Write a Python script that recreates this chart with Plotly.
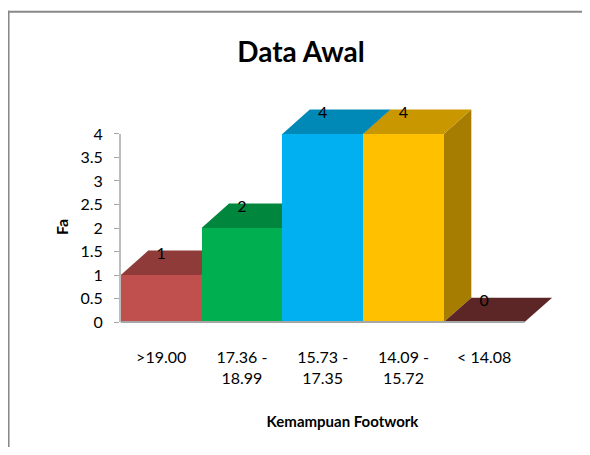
import plotly.graph_objects as go

# ---- data ----
categories = [">19.00", "17.36 -<br>18.99", "15.73 -<br>17.35", "14.09 -<br>15.72", "< 14.08"]
values = [1, 2, 4, 4, 0]
y_ticks = [0, 0.5, 1, 1.5, 2, 2.5, 3, 3.5, 4]
y_ticktext = ["0", "0.5", "1", "1.5", "2", "2.5", "3", "3.5", "4"]

front_colors = ["#C0504D", "#00B050", "#00B0F0", "#FFC000", "#8C3B39"]
top_colors = ["#8F3B39", "#00863D", "#0089B6", "#C99700", "#5C2626"]
side_colors = ["#7A302E", "#006E32", "#007196", "#A67D00", "#4A1F1F"]

FONT = "Lato, Carlito, Calibri, sans-serif"

# 3D depth offsets (category units, value units)
DX = 0.34
DY = 0.52

x_idx = list(range(len(categories)))

fig = go.Figure()

fig.add_trace(go.Bar(
    x=x_idx, y=values, width=1.0,
    marker=dict(color=front_colors, line=dict(width=0)),
    hoverinfo="skip", showlegend=False,
))

shapes = []
for i, v in enumerate(values):
    x0, x1 = i - 0.5, i + 0.5
    if v > 0:
        shapes.append(dict(
            type="path", xref="x", yref="y", layer="below",
            path=f"M {x1},0 L {x1},{v} L {x1+DX},{v+DY} L {x1+DX},{DY} Z",
            fillcolor=side_colors[i], line=dict(width=0),
        ))
    shapes.append(dict(
        type="path", xref="x", yref="y", layer="below",
        path=f"M {x0},{v} L {x1},{v} L {x1+DX},{v+DY} L {x0+DX},{v+DY} Z",
        fillcolor=top_colors[i], line=dict(width=0),
    ))

# floor front edge / x axis line
shapes.append(dict(type="line", xref="x", yref="y", x0=-0.5, x1=len(categories) - 0.5,
                   y0=0, y1=0, line=dict(color="#A6A6A6", width=2), layer="above"))
# y axis line from 0 to top tick
shapes.append(dict(type="line", xref="paper", yref="y", x0=0, x1=0,
                   y0=y_ticks[0], y1=y_ticks[-1], line=dict(color="#A6A6A6", width=1.5)))

# page offset (browser body margin) = 8px
OFF = 8
W, H = 574, 439
L, R, T, B = 112, 16.8, 93.1, 123.1
pw, ph = W - L - R, H - T - B

def sx(px):  # screenshot x pixel -> paper
    return (px - OFF - L) / pw

def sy(py):  # screenshot y pixel -> paper
    return (H - B - (py - OFF)) / ph

# chart-area border (top and left edges; the rest lies outside the picture)
shapes.append(dict(type="line", xref="paper", yref="paper",
                   x0=sx(7.5), x1=sx(640), y0=sy(12), y1=sy(12),
                   line=dict(color="#888888", width=2)))
shapes.append(dict(type="line", xref="paper", yref="paper",
                   x0=sx(8.5), x1=sx(8.5), y0=sy(11), y1=sy(520),
                   line=dict(color="#888888", width=2)))

# data labels
fig.add_trace(go.Scatter(
    x=x_idx, y=[v + 0.43 for v in values], mode="text",
    text=[str(v) for v in values],
    textfont=dict(family=FONT, size=16, color="#000000"),
    cliponaxis=False, hoverinfo="skip", showlegend=False,
))

fig.update_layout(
    width=W, height=H,
    margin=dict(l=L, r=R, t=T, b=B, pad=0),
    paper_bgcolor="white", plot_bgcolor="white",
    shapes=shapes,
    bargap=0,
    title=dict(text="<b>Data Awal</b>", x=(301 - OFF) / W, xref="container", xanchor="center",
               y=1 - (52 - OFF) / H, yref="container", yanchor="middle",
               font=dict(family=FONT, size=28, color="#000000")),
    xaxis=dict(
        range=[-0.51, 5.0], tickmode="array", tickvals=x_idx, ticktext=categories,
        showgrid=False, zeroline=False, showline=False, ticks="",
        tickfont=dict(family=FONT, size=16, color="#000000"),
        ticklabelstandoff=22,
        title=dict(text="<b>Kemampuan Footwork</b>", font=dict(family=FONT, size=15, color="#000000"),
                   standoff=30),
        fixedrange=True,
    ),
    yaxis=dict(
        range=[-0.04, 4.7], tickmode="array", tickvals=y_ticks, ticktext=y_ticktext,
        showgrid=False, zeroline=False, showline=False,
        ticks="outside", ticklen=5, tickcolor="#A6A6A6", tickwidth=1,
        tickfont=dict(family=FONT, size=16, color="#000000"),
        ticklabelstandoff=8,
        fixedrange=True,
    ),
    annotations=[dict(
        text="<b>Fa</b>", xref="paper", yref="paper",
        x=sx(61), y=sy(227), textangle=-90,
        showarrow=False, xanchor="center", yanchor="middle",
        font=dict(family=FONT, size=16, color="#000000"),
    )],
)

fig.write_html("out.html", config={"displayModeBar": False})
